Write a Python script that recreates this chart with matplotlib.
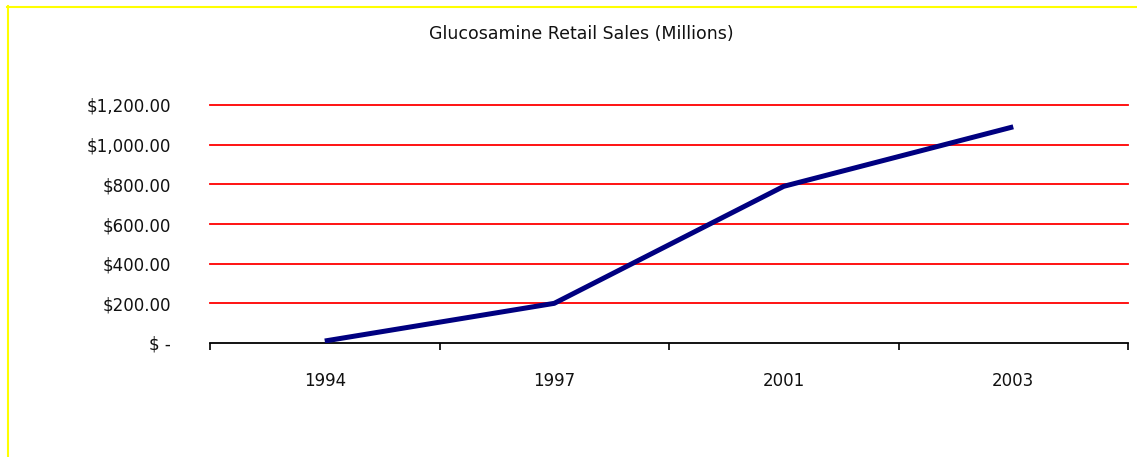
import matplotlib
matplotlib.use("Agg")
import matplotlib.pyplot as plt
from matplotlib.lines import Line2D

# Sales data (millions of dollars)
years = ['1994', '1997', '2001', '2003']
sales = [10, 200, 790, 1090]

y_ticks = [0, 200, 400, 600, 800, 1000, 1200]
y_labels = ['$ -', '$200.00', '$400.00', '$600.00', '$800.00', '$1,000.00', '$1,200.00']

plt.rcParams['font.family'] = ['DejaVu Sans']

W, H = 1137, 457
fig = plt.figure(figsize=(W / 100, H / 100), dpi=100)
fig.patch.set_facecolor('white')

# Axes placed in pixel terms
left, right, bottom, top = 210, 1128, 343, 105
ax = fig.add_axes([left / W, (H - bottom) / H, (right - left) / W, (bottom - top) / H])

x = list(range(len(years)))
ax.plot(x, sales, color='#000080', linewidth=3.6, solid_capstyle='butt', zorder=3)

ax.set_xlim(-0.5, len(years) - 0.5)
ax.set_ylim(0, 1200)

# Category axis: labels centred, tick marks between categories
ax.set_xticks(x)
ax.set_xticklabels(years, fontsize=12, color='#111111')
ax.set_xticks([i - 0.5 for i in range(len(years) + 1)], minor=True)
ax.tick_params(axis='x', which='major', length=0, pad=21)
ax.tick_params(axis='x', which='minor', length=5, width=1.2, color='black', direction='out')

ax.set_yticks(y_ticks)
ax.set_yticklabels(y_labels, fontsize=12, color='#111111')
ax.tick_params(axis='y', length=0, pad=28)

for v in y_ticks[1:]:
    ax.axhline(v, color='#ff0000', linewidth=1.3, zorder=1, clip_on=False)

for s in ['left', 'right', 'top']:
    ax.spines[s].set_visible(False)
ax.spines['bottom'].set_color('black')
ax.spines['bottom'].set_linewidth(1.3)

fig.text(581 / W, 1 - 34 / H, 'Glucosamine Retail Sales (Millions)', ha='center', va='center',
         fontsize=12.5, color='#111111')

# Yellow frame along the top and left edges
fig.add_artist(Line2D([7.5 / W, 7.5 / W], [0, 1 - 6 / H], transform=fig.transFigure,
                      color='#ffff00', linewidth=1.5))
fig.add_artist(Line2D([7 / W, 1], [1 - 6.5 / H, 1 - 6.5 / H], transform=fig.transFigure,
                      color='#ffff00', linewidth=1.5))

fig.savefig('out.png', dpi=100)
